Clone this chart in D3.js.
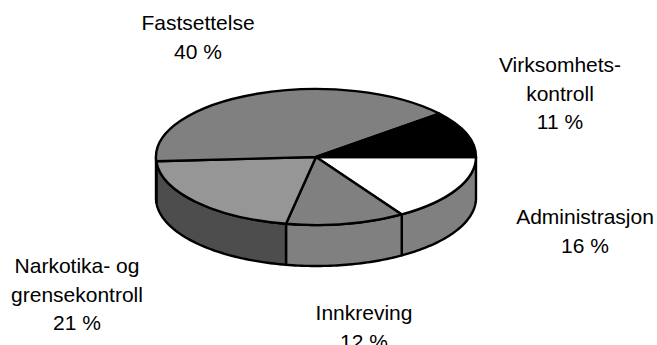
<!DOCTYPE html>
<html>
<head>
<meta charset="utf-8">
<script src="https://cdn.jsdelivr.net/npm/d3@7"></script>
<style>
  html, body { margin: 0; padding: 0; background: #fff; overflow: hidden; }
  svg { display: block; }
  text { font-family: "Liberation Sans", Arial, sans-serif; font-size: 21px; fill: #000; text-anchor: middle; }
</style>
</head>
<body>
<svg id="chart" width="657" height="345"></svg>
<script>
// Budget shares, clockwise from three o'clock
const categories = ["Administrasjon", "Innkreving", "Narkotika- og grensekontroll", "Fastsettelse", "Virksomhetskontroll"];
const shares = [16, 12, 21, 40, 11];
const topColors = ["#ffffff", "#808080", "#969696", "#808080", "#000000"];
const wallColors = ["#808080", "#808080", "#4d4d4d", "#4d4d4d", "#000000"];
const labelLines = [
  ["Administrasjon", "16 %"],
  ["Innkreving", "12 %"],
  ["Narkotika- og", "grensekontroll", "21 %"],
  ["Fastsettelse", "40 %"],
  ["Virksomhets-", "kontroll", "11 %"]
];
const labelCentres = [585, 364, 77, 198, 560];
const labelBaselines = [224, 320, 273, 30, 72];

const width = 657, height = 345;
const cx = 316, cy = 157, rx = 160, ry = 68, depth = 41;
const lineGap = 28.5;

const svg = d3.select("#chart");

const pie = d3.pie().sort(null).startAngle(Math.PI / 2).endAngle(Math.PI * 2.5);
const slices = pie(shares);

// Tilted disc: the circular pie angle is flattened onto an ellipse
const px = a => cx + rx * Math.sin(a);
const py = a => cy - ry * Math.cos(a);

function wallPath(a0, a1) {
  const p = d3.path();
  const steps = Math.max(2, Math.ceil((a1 - a0) / 0.02));
  const angle = d3.scaleLinear().domain([0, steps]).range([a0, a1]);
  p.moveTo(px(a0), py(a0));
  for (let i = 1; i <= steps; i++) p.lineTo(px(angle(i)), py(angle(i)));
  for (let i = steps; i >= 0; i--) p.lineTo(px(angle(i)), py(angle(i)) + depth);
  p.closePath();
  return p.toString();
}

// Only the front half of the rim is visible
const frontStart = Math.PI / 2, frontEnd = Math.PI * 1.5;
const walls = svg.append("g");
slices.forEach((s, i) => {
  const a0 = Math.max(s.startAngle, frontStart);
  const a1 = Math.min(s.endAngle, frontEnd);
  if (a1 <= a0) return;
  walls.append("path")
    .attr("d", wallPath(a0, a1))
    .attr("fill", wallColors[i])
    .attr("stroke", "#000")
    .attr("stroke-width", 2.4)
    .attr("stroke-linejoin", "round");
});

const arc = d3.arc().innerRadius(0).outerRadius(rx);
svg.append("g")
  .attr("transform", `translate(${cx},${cy}) scale(1,${ry / rx})`)
  .selectAll("path")
  .data(slices)
  .join("path")
  .attr("d", arc)
  .attr("fill", (d, i) => topColors[i])
  .attr("stroke", "#000")
  .attr("stroke-width", 2.4)
  .attr("stroke-linejoin", "round")
  .attr("vector-effect", "non-scaling-stroke");

const labels = svg.append("g")
  .selectAll("text")
  .data(labelLines)
  .join("text")
  .attr("data-category", (d, i) => categories[i])
  .attr("x", (d, i) => labelCentres[i])
  .attr("y", (d, i) => labelBaselines[i]);

labels.selectAll("tspan")
  .data((d, i) => d.map(line => ({ line, x: labelCentres[i] })))
  .join("tspan")
  .attr("x", d => d.x)
  .attr("dy", (d, j) => j ? lineGap : 0)
  .text(d => d.line);
</script>
</body>
</html>
